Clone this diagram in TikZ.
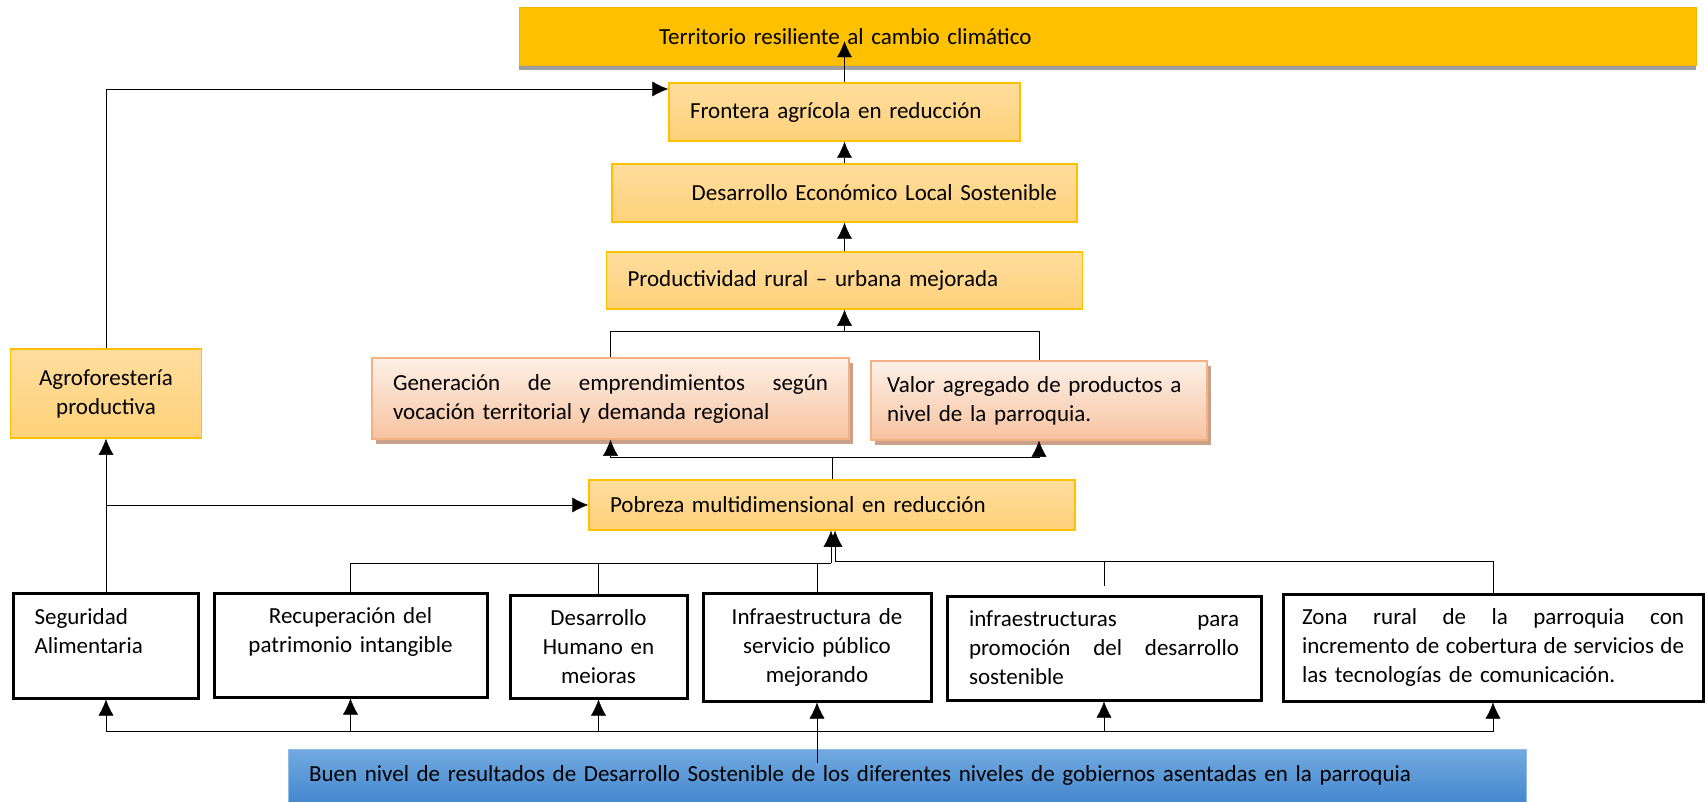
\documentclass[tikz,border=0pt]{standalone}
\usepackage{fontspec}
\setmainfont{Carlito}
\usepackage{xcolor}
\usepackage{tikz}
\usetikzlibrary{positioning}
\usetikzlibrary{shapes,calc,arrows.meta,shadows}
\hyphenpenalty=10000
\definecolor{gold}{HTML}{FFC000}
\definecolor{goldedge}{HTML}{F2B700}
\definecolor{sandtop}{HTML}{FFDD9E}
\definecolor{sandbot}{HTML}{FFD27A}
\definecolor{peachedge}{HTML}{F4B183}
\definecolor{peachtop}{HTML}{FDF0E7}
\definecolor{peachbot}{HTML}{F7C3A0}
\definecolor{peachshade}{HTML}{C9A089}
\definecolor{bluetop}{HTML}{72AADF}
\definecolor{bluebot}{HTML}{4588CF}
\definecolor{blueedge}{HTML}{8FBCE7}
\tikzset{
  -{Latex[length=16pt,width=15pt]},
  line width=1.6pt,
  goalbox/.style = {rectangle, draw=goldedge, line width=1pt, fill=gold,
   drop shadow={shadow xshift=0pt, shadow yshift=-4pt, fill=gray!75, opacity=1},
   minimum height=58pt, align=left},
  effect/.style = {rectangle, draw=gold, line width=1.5pt,
   top color=sandtop, bottom color=sandbot, align=left},
  result/.style = {rectangle, draw=peachedge, line width=1.5pt,
   top color=peachtop, bottom color=peachbot, align=left,
   drop shadow={shadow xshift=4pt, shadow yshift=-5pt, fill=peachshade, opacity=1}},
  cause/.style = {rectangle, draw=black, line width=3pt, fill=white, align=center},
  basebox/.style = {rectangle, draw=blueedge, line width=1pt,
   top color=bluetop, bottom color=bluebot, align=left},
}

\begin{document}
\begin{tikzpicture}[x=1pt, y=-1pt, font=\fontsize{23}{29}\selectfont]
  \useasboundingbox (0,0) rectangle (1705,802);
  % upper chain
  \node (terr) [goalbox, inner xsep=140pt, text width=897pt] at (1107.5,37) {Territorio resiliente al cambio climático};
  \node (front) [effect, inner xsep=21pt, text width=309pt, minimum height=58pt] at (844.5,112) {Frontera agrícola en reducción};
  \node (deco) [effect, align=right, inner xsep=20pt, text width=425pt, minimum height=58pt] at (844.5,193) {Desarrollo Económico Local Sostenible};
  \node (prod) [effect, inner xsep=21pt, text width=434pt, minimum height=57pt] at (844.5,280.5) {Productividad rural – urbana mejorada};
  \node (gen) [result, inner xsep=21pt, text width=435pt, minimum height=81pt] at (610.5,398.5) {Generación\hfill de\hfill emprendimientos\hfill según\\vocación territorial y demanda regional};
  \node (valor) [result, inner xsep=16pt, text width=304pt, minimum height=79pt] at (1039,400.5) {Valor agregado de productos a\\nivel de la parroquia.};
  \node (agro) [effect, align=center, inner xsep=10.5pt, text width=170pt, minimum height=89pt] at (106,393.5) {Agroforestería\\productiva};
  \node (pobr) [effect, inner xsep=21pt, text width=444pt, minimum height=50pt] at (832,505) {Pobreza multidimensional en reducción};
  % causes
  \node (segu) [cause, align=left, inner xsep=21pt, text width=143pt, minimum height=105pt] at (106,645.5) {Seguridad\\Alimentaria\\\mbox{}};
  \node (recu) [cause, inner xsep=16.5pt, text width=240pt, minimum height=104pt] at (350.5,645) {Recuperación del\\patrimonio intangible\\\mbox{}};
  \node (dh) [cause, inner xsep=13.5pt, text width=150pt, minimum height=103pt] at (598.5,646.5) {Desarrollo\\Humano en\\meioras};
  \node (infra) [cause, inner xsep=14pt, text width=200pt, minimum height=108pt] at (817,647) {Infraestructura de\\servicio público\\mejorando};
  \node (infra2) [cause, align=left, inner xsep=22pt, text width=270pt, minimum height=104pt] at (1104,648) {infraestructuras\hfill para\\promoción\hfill del\hfill desarrollo\\sostenible};
  \node (zona) [cause, align=left, inner xsep=19pt, text width=382pt, minimum height=107pt] at (1493,647.5) {Zona\hfill rural\hfill de\hfill la\hfill parroquia\hfill con\\incremento\hfill de\hfill cobertura\hfill de\hfill servicios\hfill de\\las tecnologías de comunicación.};
  \node (buen) [basebox, inner xsep=21pt, text width=1196pt, minimum height=53pt] at (907,775.5) {Buen nivel de resultados de Desarrollo Sostenible de los diferentes niveles de gobiernos asentadas en la parroquia};

  % base to causes
  \coordinate (bsrc) at (817,763);
  \draw (bsrc) -- (infra.south);
  \foreach \n in {segu,recu,dh,infra2,zona}
    \draw (bsrc |- 0,731) -| (\n.south);
  % causes to pobreza
  \coordinate (jl) at (831,563);
  \coordinate (jr) at (835,561);
  \draw[-] (recu.north) |- (jl);
  \draw[-] (dh.north) |- (jl);
  \draw[-] (infra.north) |- (jl);
  \draw[-] (zona.north) |- (jr);
  \draw[-, shorten <=9pt] (infra2.north) |- (jr);
  \draw (jl) -- (jl |- pobr.south);
  \draw (jr) -- (jr |- pobr.south);
  % left branch
  \draw (segu.north) -- (agro.south);
  \draw (segu.north |- pobr.west) -- (pobr.west);
  \draw (agro.north) |- ([yshift=23pt]front.west);
  % middle chain
  \draw (pobr.north) -- ++(0,-22) -| (gen.south);
  \draw (pobr.north) -- ++(0,-22) -| (valor.south);
  \draw[-] (gen.north) -- ++(0,-26) -| (valor.north);
  \coordinate (gj) at (844.5,332);
  \draw (gj) -- (prod.south);
  \path (prod) edge (deco);
  \path (deco) edge (front);
  \draw (front.north) -- ([yshift=41pt]front.north);
\end{tikzpicture}
\end{document}
